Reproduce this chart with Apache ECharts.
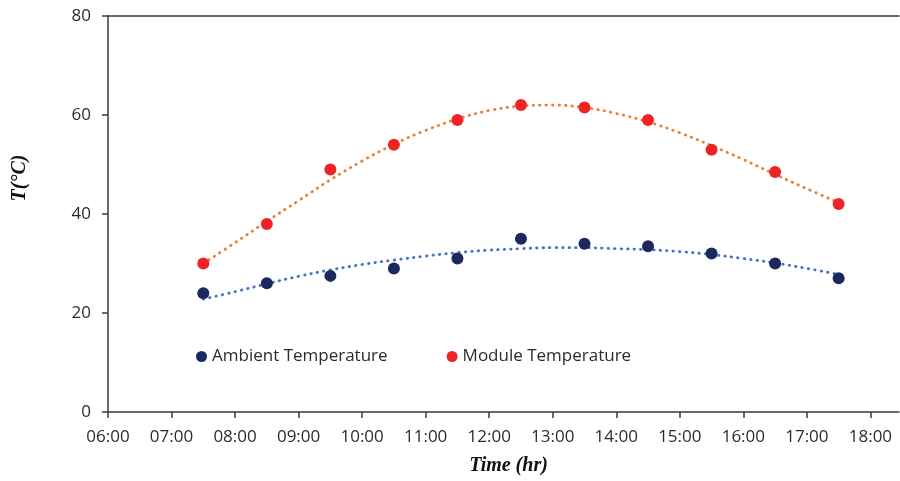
<!DOCTYPE html>
<html>
<head>
<meta charset="utf-8">
<script src="https://cdn.jsdelivr.net/npm/echarts@6/dist/echarts.min.js"></script>
<style>
html,body{margin:0;padding:0;background:#fff;}
#chart{width:900px;height:481px;}
</style>
</head>
<body>
<div id="chart"></div>
<script>
// Measured hours (decimal) and values
const hours = [7.5, 8.5, 9.5, 10.5, 11.5, 12.5, 13.5, 14.5, 15.5, 16.5, 17.5];
const ambientTemp = [24, 26, 27.5, 29, 31, 35, 34, 33.5, 32, 30, 27];
const moduleTemp = [30, 38, 49, 54, 59, 62, 61.5, 59, 53, 48.5, 42];

// Trend lines
const trendHours = [7.5, 8, 8.5, 9, 9.5, 10, 10.5, 11, 11.5, 12, 12.5, 13, 13.5, 14, 14.5, 15, 15.5, 16, 16.5, 17, 17.5];
const ambientTrend = [22.8, 24.3, 25.9, 27.4, 28.7, 29.8, 30.7, 31.5, 32.2, 32.7, 33.0, 33.2, 33.2, 33.0, 32.8, 32.4, 31.8, 31.0, 30.1, 29.0, 27.8];
const moduleTrend = [30.0, 34.2, 38.5, 42.7, 46.9, 50.7, 54.1, 56.9, 59.2, 60.9, 61.8, 62.0, 61.5, 60.3, 58.6, 56.4, 53.8, 51.0, 48.0, 45.1, 42.3];

// Axis ticks
const xTickHours = [6, 7, 8, 9, 10, 11, 12, 13, 14, 15, 16, 17, 18];
const seriesNames = ['Ambient Temperature', 'Module Temperature'];

const pair = (xs, ys) => xs.map((x, i) => [x, ys[i]]);
const fmtHour = v => { const h = Math.round(v); return (h < 10 ? '0' : '') + h + ':00'; };

const axisColor = '#3a3a3a';
const labelFont = { fontFamily: 'Open Sans', fontSize: 17, color: '#2b2b2b' };

const chart = echarts.init(document.getElementById('chart'), null, { renderer: 'canvas' });
chart.setOption({
  animation: false,
  backgroundColor: '#fff',
  grid: { left: 108, right: 1, top: 16, bottom: 63, containLabel: false },
  legend: {
    data: seriesNames,
    left: 191, top: 343,
    itemWidth: 11, itemHeight: 11, itemGap: 59,
    icon: 'circle',
    textStyle: { fontFamily: 'Open Sans', fontSize: 17, color: '#2b2b2b' }
  },
  xAxis: [{
    type: 'value', min: 6, max: 18.45,
    name: 'Time (hr)', nameLocation: 'middle', nameGap: 44,
    nameTextStyle: { fontFamily: 'Liberation Serif', fontSize: 20, fontWeight: 'bold', fontStyle: 'italic', color: '#111', padding: [0, 0, 0, 10] },
    axisLine: { show: true, lineStyle: { color: axisColor, width: 1.5 } },
    axisTick: { show: true, length: 6, inside: false, customValues: xTickHours, lineStyle: { color: axisColor, width: 1.5 } },
    axisLabel: { customValues: xTickHours, formatter: fmtHour, margin: 17, ...labelFont },
    splitLine: { show: false }
  }, {
    type: 'value', min: 6, max: 18.45, position: 'top',
    axisLine: { show: true, onZero: false, lineStyle: { color: axisColor, width: 1.5 } },
    axisTick: { show: false }, axisLabel: { show: false }, splitLine: { show: false }
  }],
  yAxis: {
    type: 'value', min: 0, max: 80, interval: 20,
    name: 'T(°C)', nameLocation: 'middle', nameGap: 78,
    nameTextStyle: { fontFamily: 'Liberation Serif', fontSize: 20, fontWeight: 'bold', fontStyle: 'italic', color: '#111', padding: [0, 0, 0, 72] },
    axisLine: { show: true, lineStyle: { color: axisColor, width: 1.5 } },
    axisTick: { show: true, length: 6, lineStyle: { color: axisColor, width: 1.5 } },
    axisLabel: { margin: 17, ...labelFont },
    splitLine: { show: false }
  },
  series: [
    {
      name: 'ambient trend', type: 'line', data: pair(trendHours, ambientTrend),
      smooth: 0.4, showSymbol: false, symbol: 'none', silent: true,
      lineStyle: { color: '#4472C4', width: 2.8, type: [0.5, 6], cap: 'round' },
      z: 2
    },
    {
      name: 'module trend', type: 'line', data: pair(trendHours, moduleTrend),
      smooth: 0.4, showSymbol: false, symbol: 'none', silent: true,
      lineStyle: { color: '#ED7D31', width: 2.8, type: [0.5, 6], cap: 'round' },
      z: 2
    },
    {
      name: seriesNames[0], type: 'scatter', data: pair(hours, ambientTemp),
      symbol: 'circle', symbolSize: 12,
      itemStyle: { color: '#1B2A5E', opacity: 1 },
      z: 3
    },
    {
      name: seriesNames[1], type: 'scatter', data: pair(hours, moduleTemp),
      symbol: 'circle', symbolSize: 12,
      itemStyle: { color: '#EE2326', opacity: 1 },
      z: 3
    }
  ]
});
</script>
</body>
</html>
